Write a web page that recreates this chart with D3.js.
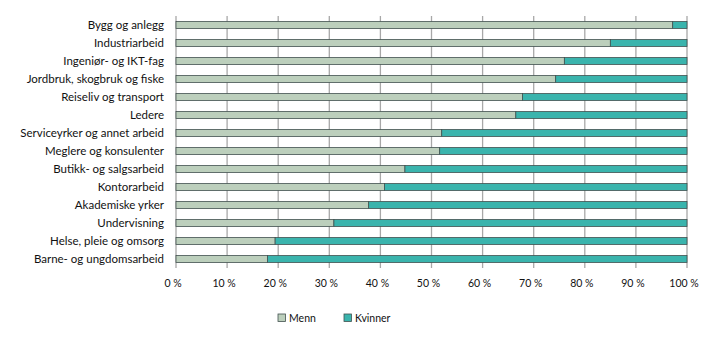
<!DOCTYPE html>
<html><head><meta charset="utf-8">
<script src="https://cdn.jsdelivr.net/npm/d3@7"></script>
<style>body{margin:0;background:#fff}svg{display:block}text{font-family:Lato,"Open Sans",sans-serif;fill:#111}</style>
</head><body><svg id="c" width="723" height="341"></svg>
<script>
const categories = ["Bygg og anlegg","Industriarbeid","Ingeniør- og IKT-fag","Jordbruk, skogbruk og fiske","Reiseliv og transport","Ledere","Serviceyrker og annet arbeid","Meglere og konsulenter","Butikk- og salgsarbeid","Kontorarbeid","Akademiske yrker","Undervisning","Helse, pleie og omsorg","Barne- og ungdomsarbeid"];
const menn = [97.2,85.0,76.0,74.3,67.8,66.5,52.0,51.6,44.8,40.8,37.7,30.9,19.4,17.9];
const kvinner = menn.map(v => 100 - v);
const seriesNames = ["Menn","Kvinner"];
const tickValues = [0,10,20,30,40,50,60,70,80,90,100];
const colors = ["#bccfbc","#3ab4ad"];

const svg = d3.select("#c");
const m = {left:176, right:723-687, top:16, bottom:341-268};
const W = 723, H = 341;
const x = d3.scaleLinear().domain([0,100]).range([m.left, W - m.right]);
const y = d3.scaleBand().domain(categories).range([m.top, H - m.bottom]).paddingInner(0.61).paddingOuter(0.305);

// gridlines
svg.append("g").selectAll("line").data(tickValues).join("line")
  .attr("x1", d => x(d)).attr("x2", d => x(d))
  .attr("y1", m.top).attr("y2", H - m.bottom)
  .attr("stroke", "#a8a8a8").attr("stroke-width", 1.3);

const rows = categories.map((c,i) => ({c, m: menn[i], k: kvinner[i]}));
const stack = d3.stack().keys(["m","k"])(rows);
svg.append("g").selectAll("g").data(stack).join("g")
  .attr("fill", (d,i) => colors[i])
  .selectAll("rect").data(d => d).join("rect")
  .attr("x", d => x(d[0])).attr("width", d => x(d[1]) - x(d[0]))
  .attr("y", d => y(d.data.c)).attr("height", y.bandwidth())
  .attr("stroke", "#42514f").attr("stroke-width", 0.8);

// y labels
svg.append("g").selectAll("text").data(categories).join("text")
  .attr("x", 164).attr("y", d => y(d) + y.bandwidth()/2)
  .attr("dy", "0.35em").attr("text-anchor", "end")
  .attr("font-size", 11.5).text(d => d);

// x axis labels
const xa = d3.axisBottom(x).tickValues(tickValues).tickSize(0).tickFormat(d => d + " %");
const gx = svg.append("g").attr("transform", `translate(0,${H - m.bottom})`).call(xa);
gx.select(".domain").remove();
gx.selectAll("text").attr("font-size", 10.5).attr("y", 12).attr("x", -3.5)
  .style("font-family","Lato,sans-serif").attr("fill","#111");

// legend
const lg = svg.append("g");
const lx = [278, 344];
seriesNames.forEach((s,i) => {
  lg.append("rect").attr("x", lx[i]).attr("y", 314).attr("width", 7.5).attr("height", 7.5)
    .attr("fill", colors[i]).attr("stroke", "#42514f").attr("stroke-width", 0.8);
  lg.append("text").attr("x", lx[i] + 11).attr("y", 318).attr("dy","0.35em")
    .attr("font-size", 10.5).text(s);
});
</script></body></html>
